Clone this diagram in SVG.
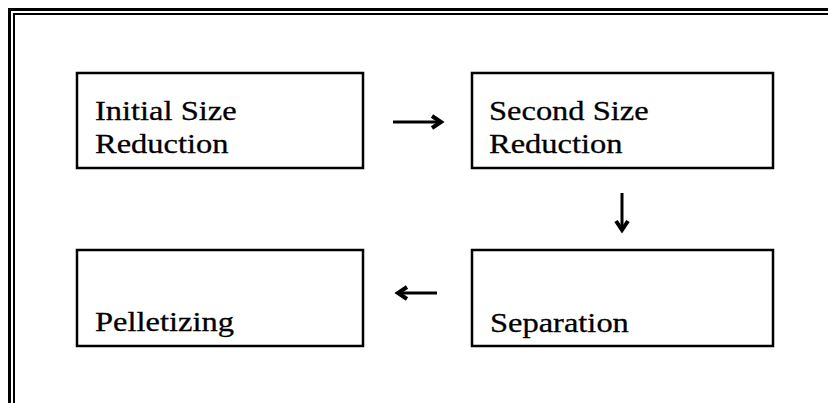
<svg xmlns="http://www.w3.org/2000/svg" width="828" height="403" viewBox="0 0 828 403">
<style>
.frame{fill:none;stroke:#000}
.box{fill:#fff;stroke:#000;stroke-width:2.5}
.lbl{font-family:"Liberation Serif","Times New Roman",serif;font-size:28px;fill:#000;stroke:#000;stroke-width:0.3}
.arr{fill:none;stroke:#000;stroke-width:3;stroke-linecap:butt;stroke-linejoin:miter}
.head{fill:none;stroke:#000;stroke-width:4;stroke-linejoin:miter}
</style>
<rect width="828" height="403" fill="#fff"/>
<g id="frame">
<path class="frame" stroke-width="3" d="M9.5,403 V9.5 H828"/>
<path class="frame" stroke-width="2" d="M14,403 V14 H828"/>
</g>
<g id="n1">
<rect class="box" x="77" y="73" width="286" height="95"/>
<text class="lbl" transform="translate(95,120) scale(1.16,1)">Initial Size</text>
<text class="lbl" transform="translate(95,153) scale(1.16,1)">Reduction</text>
</g>
<g id="n2">
<rect class="box" x="472" y="73" width="301" height="95"/>
<text class="lbl" transform="translate(489,120) scale(1.16,1)">Second Size</text>
<text class="lbl" transform="translate(489,153) scale(1.16,1)">Reduction</text>
</g>
<g id="n3">
<rect class="box" x="472" y="250" width="301" height="96"/>
<text class="lbl" transform="translate(490,332) scale(1.16,1)">Separation</text>
</g>
<g id="n4">
<rect class="box" x="77" y="250" width="286" height="96"/>
<text class="lbl" transform="translate(95,331) scale(1.16,1)">Pelletizing</text>
</g>
<g id="connectors">
<path class="arr" d="M393,122 H439"/>
<path class="head" d="M432,116 L441,122 L432,128"/>
<path class="arr" d="M622,193 V228"/>
<path class="head" d="M616,221 L622,230 L628,221"/>
<path class="arr" d="M437,293 H400"/>
<path class="head" d="M407,287 L398,293 L407,299"/>
</g>
</svg>
